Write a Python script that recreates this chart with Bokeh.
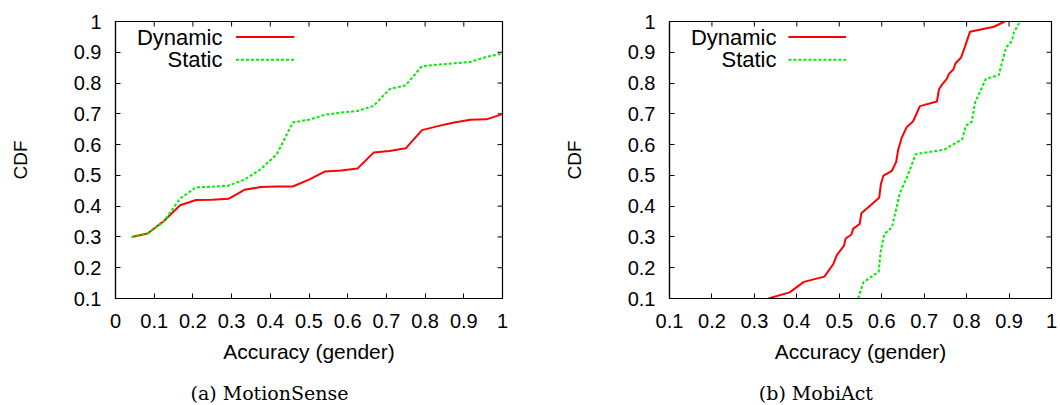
import math
from bokeh.plotting import figure
from bokeh.models import Range1d, FixedTicker, Label
from bokeh.layouts import row, column
from bokeh.embed import file_html
from bokeh.resources import INLINE

# ---------------- data ----------------
# (a) MotionSense
ms_x = [0.042, 0.083, 0.125, 0.167, 0.208, 0.25, 0.292, 0.333, 0.375, 0.417, 0.458, 0.5,
        0.542, 0.583, 0.625, 0.667, 0.708, 0.75, 0.792, 0.833, 0.875, 0.917, 0.958, 1.0]
ms_dynamic = [0.300, 0.311, 0.352, 0.403, 0.420, 0.421, 0.424, 0.453, 0.462, 0.464, 0.464, 0.486,
              0.513, 0.516, 0.522, 0.574, 0.579, 0.588, 0.647, 0.660, 0.672, 0.681, 0.682, 0.699]
ms_static = [0.300, 0.311, 0.350, 0.425, 0.461, 0.463, 0.467, 0.486, 0.520, 0.569, 0.672, 0.681,
             0.697, 0.704, 0.709, 0.726, 0.780, 0.793, 0.855, 0.860, 0.864, 0.869, 0.885, 0.896]

# (b) MobiAct
ma_dyn_x = [0.333, 0.383, 0.4165, 0.465, 0.486, 0.494, 0.511, 0.515, 0.528, 0.533, 0.548, 0.552,
            0.594, 0.598, 0.604, 0.624, 0.634, 0.639, 0.643, 0.647, 0.6585, 0.674, 0.690, 0.730,
            0.735, 0.742, 0.753, 0.758, 0.769, 0.7735, 0.787, 0.794, 0.808, 0.864, 0.89]
ma_dyn_y = [0.1, 0.12, 0.154, 0.171, 0.212, 0.241, 0.271, 0.295, 0.307, 0.327, 0.342, 0.377,
            0.427, 0.472, 0.499, 0.515, 0.544, 0.585, 0.603, 0.622, 0.656, 0.676, 0.725, 0.740,
            0.78, 0.795, 0.813, 0.829, 0.845, 0.8635, 0.883, 0.91, 0.967, 0.983, 1.0]
ma_sta_x = [0.5445, 0.557, 0.593, 0.597, 0.606, 0.624, 0.635, 0.6425, 0.661, 0.680, 0.748, 0.79,
            0.798, 0.812, 0.82, 0.829, 0.845, 0.876, 0.8835, 0.893, 0.907, 0.911, 0.926]
ma_sta_y = [0.1, 0.153, 0.187, 0.249, 0.309, 0.331, 0.396, 0.442, 0.499, 0.569, 0.584, 0.618,
            0.661, 0.674, 0.737, 0.764, 0.813, 0.826, 0.867, 0.916, 0.937, 0.964, 1.0]

series_names = ["Dynamic", "Static"]
captions = ["(a) MotionSense", "(b) MobiAct"]
x_label = "Accuracy (gender)"
y_label = "CDF"

y_ticks = [0.1, 0.2, 0.3, 0.4, 0.5, 0.6, 0.7, 0.8, 0.9, 1]
y_tick_labels = ["0.1", "0.2", "0.3", "0.4", "0.5", "0.6", "0.7", "0.8", "0.9", "1"]
ms_x_ticks = [0, 0.1, 0.2, 0.3, 0.4, 0.5, 0.6, 0.7, 0.8, 0.9, 1]
ms_x_tick_labels = ["0", "0.1", "0.2", "0.3", "0.4", "0.5", "0.6", "0.7", "0.8", "0.9", "1"]
ma_x_ticks = [0.1, 0.2, 0.3, 0.4, 0.5, 0.6, 0.7, 0.8, 0.9, 1]
ma_x_tick_labels = ["0.1", "0.2", "0.3", "0.4", "0.5", "0.6", "0.7", "0.8", "0.9", "1"]

# ---------------- style ----------------
SANS = "Liberation Sans"
SERIF = "DejaVu Serif"
RED = "#ff0000"
GREEN = "#00ee00"
FRAME_W = 387
FRAME_H = 277
TOP = 21
H = 375          # chart height; caption strip below
CAP_H = 30
CAP_BASELINE = 13
TICK = 5


def make_fig(width, left, xr, x_ticks, x_tick_labels, series):
    right = width - left - FRAME_W
    p = figure(width=width, height=H, output_backend="svg", toolbar_location=None,
               x_range=Range1d(*xr), y_range=Range1d(0.1, 1.0),
               min_border_left=left, min_border_right=right,
               min_border_top=TOP, min_border_bottom=H - TOP - FRAME_H,
               background_fill_color="white", border_fill_color="white")
    p.grid.visible = False
    p.outline_line_color = "black"
    p.outline_line_width = 1.2

    for ax, ticks, labels in ((p.xaxis[0], x_ticks, x_tick_labels),
                              (p.yaxis[0], y_ticks, y_tick_labels)):
        ax.ticker = FixedTicker(ticks=ticks)
        ax.major_label_overrides = dict(zip(ticks, labels))
        ax.major_tick_in = TICK
        ax.major_tick_out = 0
        ax.minor_tick_line_color = None
        ax.axis_line_color = "black"
        ax.axis_line_width = 1.2
        ax.major_tick_line_color = "black"
        ax.major_label_text_font = SANS
        ax.major_label_text_font_size = "20px"
        ax.major_label_text_color = "black"
        ax.axis_label_text_font = SANS
        ax.axis_label_text_font_style = "normal"
        ax.axis_label_text_color = "black"

    p.xaxis[0].axis_label = x_label
    p.xaxis[0].axis_label_text_font_size = "21px"
    p.xaxis[0].major_label_standoff = 15
    p.xaxis[0].axis_label_standoff = 9
    p.yaxis[0].axis_label = y_label
    p.yaxis[0].axis_label_text_font_size = "19px"
    p.yaxis[0].major_label_standoff = 14
    p.yaxis[0].axis_label_standoff = 40

    x0, x1 = xr
    y0, y1 = 0.1, 1.0

    # mirrored inward ticks on top and right edges (clipped to the frame -> half inside)
    p.scatter(x_ticks, [y1] * len(x_ticks), marker="dash", angle=math.pi / 2,
              size=2 * TICK, line_color="black", line_width=1)
    p.scatter([x1] * len(y_ticks), y_ticks, marker="dash", angle=0,
              size=2 * TICK, line_color="black", line_width=1)

    def dx(px):
        return x0 + px * (x1 - x0) / FRAME_W

    def dy(py):
        return y1 - py * (y1 - y0) / FRAME_H

    styles = [dict(line_color=RED, line_width=2),
              dict(line_color=GREEN, line_width=2, line_dash="3 2")]
    leg_rows = [15.6, 38.3]
    for (xs, ys), name, st, ly in zip(series, series_names, styles, leg_rows):
        p.line(xs, ys, **st)
        # gnuplot-style key: text right-aligned, sample line to its right
        p.add_layout(Label(x=x0, y=y1, x_offset=107, y_offset=-ly, text=name,
                           text_align="right", text_baseline="middle",
                           text_font=SANS, text_font_size="22px", text_color="black"))
        p.line([dx(120.5), dx(178.8)], [dy(ly), dy(ly)], **st)
    return p


def make_caption(width, text_left, text):
    c = figure(width=width, height=CAP_H, output_backend="svg", toolbar_location=None,
               x_range=Range1d(0, width), y_range=Range1d(0, CAP_H),
               x_axis_type=None, y_axis_type=None, min_border=0,
               outline_line_color=None, background_fill_color="white",
               border_fill_color="white")
    c.grid.visible = False
    c.add_layout(Label(x=text_left, y=CAP_BASELINE, text=text, text_align="left",
                       text_baseline="alphabetic", text_font=SERIF,
                       text_font_size="19px", text_color="black"))
    return c


p1 = make_fig(560, 115, (0.0, 1.0), ms_x_ticks, ms_x_tick_labels,
              [(ms_x, ms_dynamic), (ms_x, ms_static)])
p2 = make_fig(500, 104, (0.1, 1.0), ma_x_ticks, ma_x_tick_labels,
              [(ma_dyn_x, ma_dyn_y), (ma_sta_x, ma_sta_y)])
c1 = make_caption(560, 190, captions[0])
c2 = make_caption(500, 198.3, captions[1])

layout = column(row(p1, p2), row(c1, c2))
open("out.html", "w").write(file_html(layout, INLINE))
